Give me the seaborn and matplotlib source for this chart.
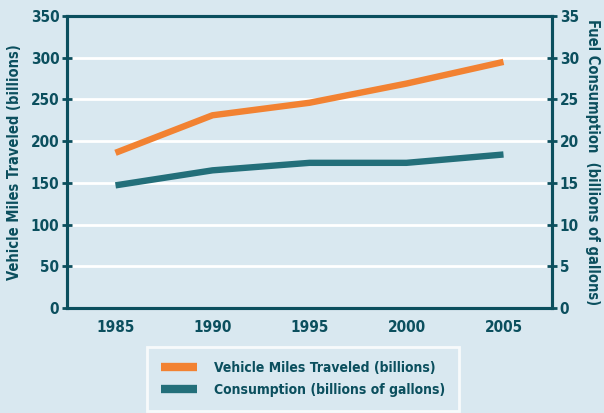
import numpy as np
import pandas as pd
import matplotlib
matplotlib.use("Agg")
import matplotlib.pyplot as plt
import seaborn as sns

# ── Data ─────────────────────────────────────────────────────────────────────
years = [1985, 1990, 1995, 2000, 2005]
vmt = [186, 231, 246, 269, 295]            # billions of miles
consumption = [14.7, 16.5, 17.4, 17.4, 18.4]  # billions of gallons

vmt_label = "Vehicle Miles Traveled (billions)"
cons_label = "Consumption (billions of gallons)"

# ── Style ────────────────────────────────────────────────────────────────────
BG = "#d9e8f0"
DARK = "#0b4f5e"
ORANGE = "#f28232"
TEAL = "#236f7a"

sns.set_style("white")
plt.rcParams["font.family"] = ["DejaVu Sans"]
plt.rcParams["font.stretch"] = "condensed"
plt.rcParams["font.weight"] = "bold"

df = pd.DataFrame({"Year": years, "VMT": vmt, "Consumption": consumption})

fig = plt.figure(figsize=(6.04, 4.13), dpi=100, facecolor=BG)
ax = fig.add_axes([67 / 604, 1 - 308 / 413, 485 / 604, 292 / 413])
ax.set_facecolor(BG)
ax2 = ax.twinx()

sns.lineplot(data=df, x="Year", y="VMT", ax=ax, color=ORANGE, linewidth=4.6,
             label=vmt_label, legend=False, solid_capstyle="butt")
sns.lineplot(data=df, x="Year", y="Consumption", ax=ax2, color=TEAL, linewidth=4.6,
             label=cons_label, legend=False, solid_capstyle="butt")

ax.set_xlim(1982.5, 2007.5)
ax.set_ylim(0, 350)
ax2.set_ylim(0, 35)
ax.set_yticks(np.arange(0, 351, 50))
ax2.set_yticks(np.arange(0, 36, 5))
ax.set_xticks(years)
ax.set_xticks(np.arange(1982.5, 2008, 5), minor=True)

for y in range(50, 350, 50):
    ax.axhline(y, color="white", linewidth=2, zorder=0)

for a in (ax, ax2):
    for side in a.spines:
        a.spines[side].set_color(DARK)
        a.spines[side].set_linewidth(2.2)

tick_kw = dict(direction="inout", length=7, width=2, color=DARK, labelcolor=DARK,
               labelsize=11, pad=2)
ax.tick_params(axis="y", **tick_kw)
ax2.tick_params(axis="y", **tick_kw)
ax.tick_params(axis="x", which="major", length=0, labelcolor=DARK, labelsize=11, pad=9)
ax.tick_params(axis="x", which="minor", direction="inout", length=7, width=2, color=DARK)

ax.set_xlabel("")
ax.set_ylabel("Vehicle Miles Traveled (billions)", color=DARK, fontsize=10.5,
              fontweight="bold", labelpad=6)
ax2.set_ylabel("Fuel Consumption  (billions of gallons)", color=DARK, fontsize=10.5,
               fontweight="bold", rotation=270, labelpad=15)

handles = ax.get_lines()[:1] + ax2.get_lines()[:1]
leg = fig.legend(handles, [vmt_label, cons_label], loc="upper left",
                 bbox_to_anchor=(147 / 604, 1 - 347 / 413), frameon=True,
                 fontsize=10, handlelength=2.6, labelspacing=0.6,
                 borderpad=1.0, borderaxespad=0, handletextpad=1.2)
leg.get_frame().set_facecolor(BG)
leg.get_frame().set_edgecolor("white")
leg.get_frame().set_linewidth(2)
leg.get_frame().set_boxstyle("square", pad=0)
for t in leg.get_texts():
    t.set_color(DARK)
    t.set_fontweight("bold")
for h in leg.legend_handles:
    h.set_linewidth(6)

fig.savefig("out.png", dpi=100, facecolor=BG)
